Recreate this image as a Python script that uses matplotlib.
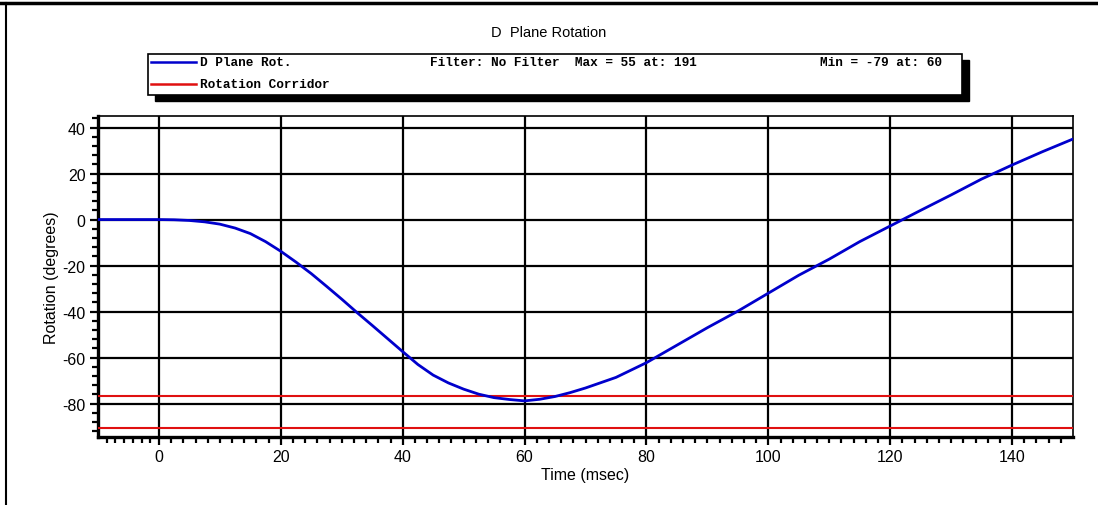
import numpy as np
import matplotlib.pyplot as plt
from matplotlib.lines import Line2D
from matplotlib.patches import Rectangle
from matplotlib.ticker import MultipleLocator, FixedLocator

# ------------------------------- Data ------------------------------- #
time_ms = [-10, -5, 0, 2.5, 5, 7.5, 10, 12.5, 15, 17.5, 20, 22.5, 25, 27.5, 30,
           32.5, 35, 37.5, 40, 42.5, 45, 47.5, 50, 52.5, 55, 57.5, 60, 62.5, 65,
           67.5, 70, 75, 80, 85, 90, 95, 100, 105, 110, 115, 120, 125, 130, 135,
           140, 145, 150]
rotation = [0, 0, 0, -0.1, -0.4, -1.0, -2.0, -3.7, -6.1, -9.6, -13.8, -18.5, -23.5,
            -29.0, -34.6, -40.4, -46.0, -51.7, -57.4, -63.0, -67.6, -71.0, -73.7,
            -75.9, -77.4, -78.2, -78.8, -78.1, -76.9, -75.2, -73.2, -68.6, -62.2,
            -54.6, -47.0, -39.8, -32.0, -24.2, -17.2, -9.6, -2.8, 4.0, 10.7, 17.6,
            23.7, 29.5, 35.0]
corridor = [-76.8, -90.6]

title = 'D  Plane Rotation'
legend_labels = ['D Plane Rot.', 'Rotation Corridor']
legend_info = ['Filter: No Filter  Max = 55 at: 191', 'Min = -79 at: 60']

W, H = 1098, 506
blue, red = '#0000CC', '#E01010'

def fx(x):
    return x / W

def fy(y):
    return 1 - y / H

# ------------------------------- Figure ------------------------------- #
plt.rcParams['font.family'] = ['Liberation Sans', 'DejaVu Sans']
plt.rcParams['axes.unicode_minus'] = False
fig = plt.figure(figsize=(W / 100, H / 100), dpi=100)
ax = fig.add_axes([fx(98), fy(438), fx(1073) - fx(98), fy(117) - fy(438)])

ax.plot(time_ms, rotation, color=blue, lw=2.0, zorder=4)
for c in corridor:
    ax.axhline(c, color=red, lw=1.5, zorder=3)

ax.set_xlim(-10, 150)
ax.set_ylim(-94.5, 45)
ax.xaxis.set_major_locator(MultipleLocator(20))
ax.yaxis.set_major_locator(MultipleLocator(20))
minor_x = list(np.linspace(-10, 0, 8)[1:-1]) + [v for v in range(2, 150, 2) if v % 20]
ax.xaxis.set_minor_locator(FixedLocator(minor_x))
ax.yaxis.set_minor_locator(MultipleLocator(4))
ax.grid(True, which='major', color='black', lw=1.6, zorder=1)
ax.set_axisbelow(True)

ax.tick_params(which='major', direction='out', length=6, width=1.6, labelsize=11.5,
               pad=3, colors='black')
ax.tick_params(which='minor', direction='out', length=4, width=1.6)
for s in ['left', 'bottom']:
    ax.spines[s].set_linewidth(2.4)
for s in ['top', 'right']:
    ax.spines[s].set_linewidth(1.2)

ax.set_xlabel('Time (msec)', fontsize=11.5, labelpad=2)
ax.set_ylabel('Rotation (degrees)', fontsize=11.5, labelpad=2)

fig.text(0.5, fy(33), title, ha='center', va='center', fontsize=10.5)

# ------------------------------- Legend box ------------------------------- #
bx0, by0, bx1, by1 = 148, 55, 962, 96
fig.patches.append(Rectangle((fx(bx0 + 7), fy(by1 + 6)), fx(bx1 - bx0), fy(by0) - fy(by1),
                             transform=fig.transFigure, facecolor='black',
                             edgecolor='black', zorder=5))
fig.patches.append(Rectangle((fx(bx0), fy(by1)), fx(bx1 - bx0), fy(by0) - fy(by1),
                             transform=fig.transFigure, facecolor='white',
                             edgecolor='black', lw=1.2, zorder=6))
mono = dict(family=['Liberation Mono', 'DejaVu Sans Mono'], fontweight='bold',
            fontsize=9.2, va='center', zorder=7)
rows = [63, 85]
for yrow, lab, col in zip(rows, legend_labels, [blue, red]):
    fig.lines.append(Line2D([fx(151), fx(196)], [fy(yrow), fy(yrow)],
                            transform=fig.transFigure, color=col, lw=1.8, zorder=7))
    fig.text(fx(200), fy(yrow), lab, **mono)
fig.text(fx(430), fy(rows[0]), legend_info[0], **mono)
fig.text(fx(820), fy(rows[0]), legend_info[1], **mono)

# ------------------------------- Outer frame ------------------------------- #
fig.lines.append(Line2D([0, 1], [fy(4), fy(4)], transform=fig.transFigure,
                        color='black', lw=2.5))
fig.lines.append(Line2D([fx(6), fx(6)], [0, fy(4)], transform=fig.transFigure,
                        color='black', lw=1.5))

fig.savefig('out.png', dpi=100)
